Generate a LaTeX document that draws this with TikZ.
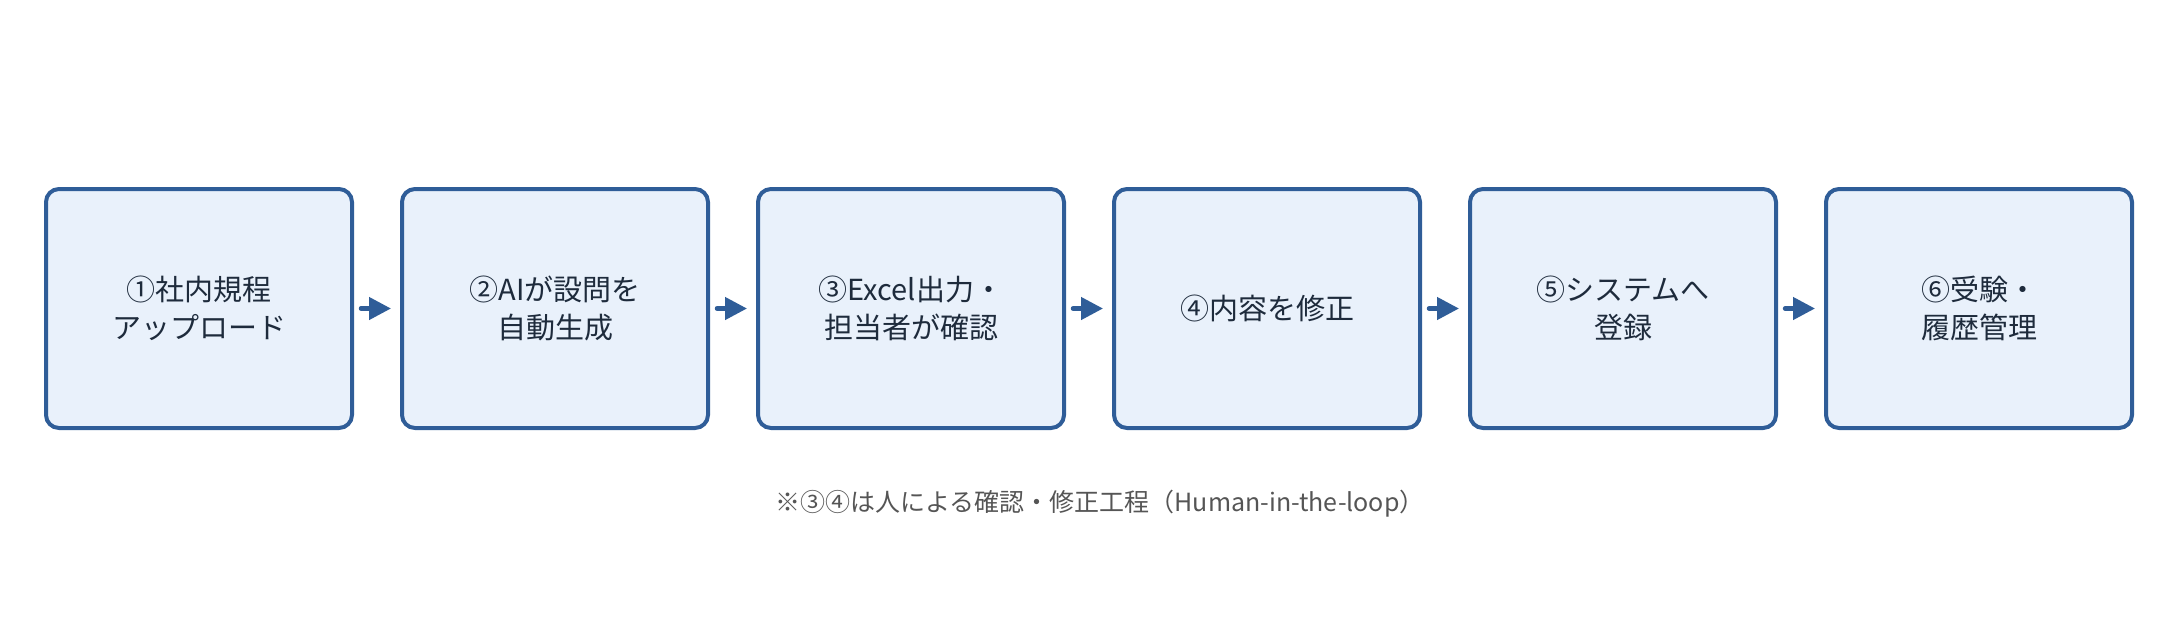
\documentclass[tikz,border=0pt]{standalone}
\usepackage{fontspec}
\setmainfont{Noto Sans CJK JP}
\usepackage{tikz}
\usetikzlibrary{arrows.meta,positioning}
\usepackage{xcolor}
\definecolor{stepblue}{RGB}{47,93,152}
\definecolor{stepfill}{RGB}{233,241,251}
\definecolor{steptext}{RGB}{30,43,60}
\definecolor{notegray}{RGB}{85,85,85}
\tikzset{
    stepbox/.style={rectangle, rounded corners=13pt, draw=stepblue, line width=4pt, fill=stepfill,
        minimum width=306pt, minimum height=239pt, align=center, text=steptext,
        font=\fontsize{29pt}{38pt}\selectfont},
    flow/.style={line width=4.5pt, stepblue, line cap=round, -{Triangle[length=22pt,width=22pt]},
        shorten <=7pt, shorten >=9pt},
    note/.style={text=notegray, font=\fontsize{25pt}{30pt}\selectfont}
}

\begin{document}
\begin{tikzpicture}[x=1pt,y=-1pt]
    \useasboundingbox (0,0) rectangle (2179,619);
    % Six steps in a row
    \node[stepbox] (s1) at (199,308.5) {①社内規程\\アップロード};
    \node[stepbox, right=46pt of s1] (s2) {②AIが設問を\\自動生成};
    \node[stepbox, right=46pt of s2] (s3) {③Excel出力・\\担当者が確認};
    \node[stepbox, right=46pt of s3] (s4) {④内容を修正};
    \node[stepbox, right=46pt of s4] (s5) {⑤システムへ\\登録};
    \node[stepbox, right=46pt of s5] (s6) {⑥受験・\\履歴管理};

    % Flow between steps
    \draw[flow] (s1) -- (s2);
    \draw[flow] (s2) -- (s3);
    \draw[flow] (s3) -- (s4);
    \draw[flow] (s4) -- (s5);
    \draw[flow] (s5) -- (s6);

    \node[note] (hitl) at (1100,504) {※③④は人による確認・修正工程（Human-in-the-loop）};
\end{tikzpicture}
\end{document}
